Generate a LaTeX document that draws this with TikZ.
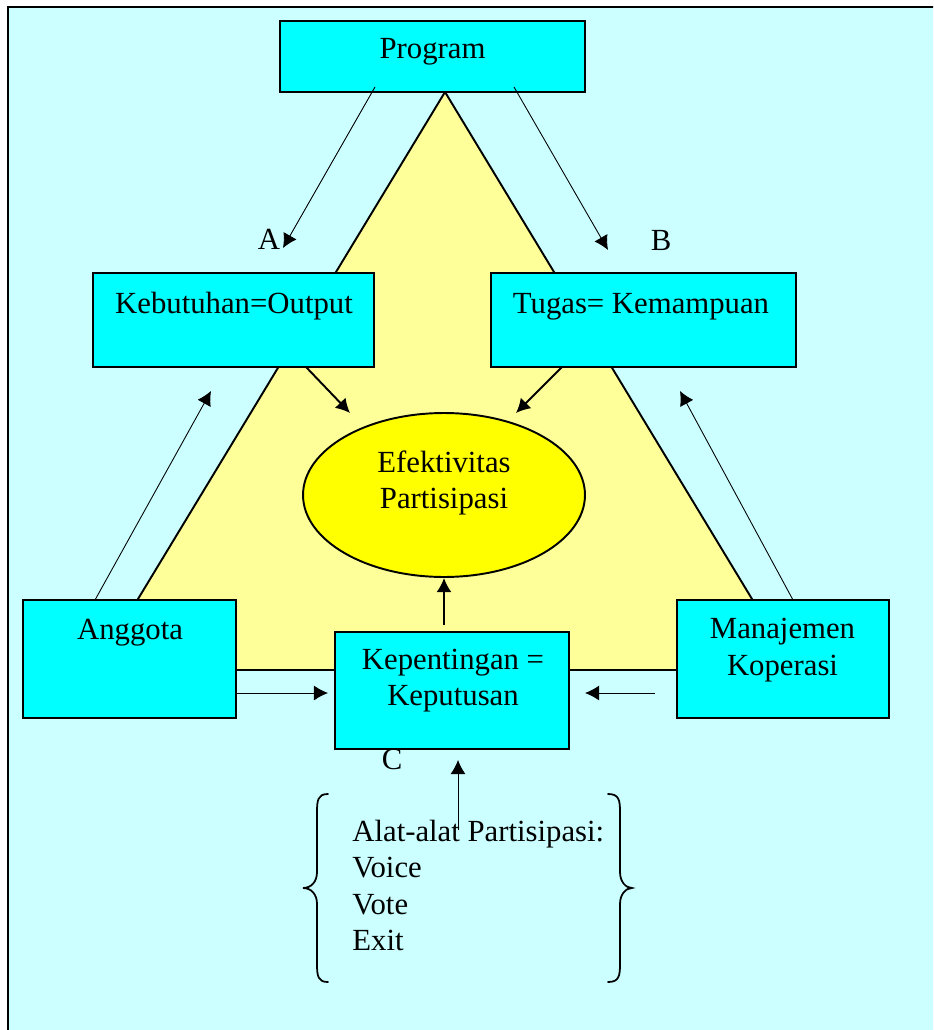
\documentclass[tikz,border=0pt]{standalone}
\usepackage{fontspec}
\setmainfont{Liberation Serif}
\usepackage{xcolor}
\usetikzlibrary{shapes.geometric}
\usetikzlibrary{arrows.meta}
\usetikzlibrary{positioning}

\definecolor{bgcyan}{HTML}{CCFFFF}
\definecolor{boxcyan}{HTML}{00FFFF}
\definecolor{trifill}{HTML}{FFFF99}
\definecolor{ellfill}{HTML}{FFFF00}

\begin{document}
\begin{tikzpicture}[x=0.02cm,y=-0.02cm,every path/.style={>={Latex[length=8pt,width=8.5pt]}},
	box/.style={draw,rectangle,fill=boxcyan,line width=1.1pt},
	txt/.style={font=\fontsize{17.5}{20.6}\selectfont,align=center,inner sep=0pt},
	thinarrow/.style={->,line width=0.5pt},
	fatarrow/.style={->,line width=1.1pt},
	brace/.style={line width=1pt,line cap=round}]
		% frame and background
		\useasboundingbox (0,0) rectangle (933,1030);
		\clip (0,0) rectangle (933,1030);
		\draw[fill=bgcyan,line width=1.7pt] (8,7) rectangle (950,1050);

		% draw triangle
		\draw[fill=trifill,line width=1.1pt] (445,92) -- (95,670) -- (795,670) -- cycle;

		% draw boxes
		\node (prog) at (432.5,56.5) [box,minimum width=6.1cm,minimum height=1.42cm] {};
		\node (keb) at (233.5,320) [box,minimum width=5.62cm,minimum height=1.88cm] {};
		\node (tug) at (643.5,320) [box,minimum width=6.1cm,minimum height=1.88cm] {};
		\node (ang) at (129.5,659) [box,minimum width=4.26cm,minimum height=2.36cm] {};
		\node (man) at (783,659) [box,minimum width=4.24cm,minimum height=2.36cm] {};
		\node (kep) at (452,690.5) [box,minimum width=4.68cm,minimum height=2.34cm] {};

		% draw ellipse
		\node (eff) at (444,495) [draw,ellipse,fill=ellfill,line width=1.1pt,minimum width=5.64cm,minimum height=3.28cm] {};

		% draw texts
		\node (progtxt) at (432.5,52) [txt] {Program};
		\node (kebtxt) at (234,306) [txt] {Kebutuhan=Output};
		\node (tugtxt) at (641,307) [txt] {Tugas= Kemampuan};
		\node (efftxt) at (444,483) [txt] {Efektivitas\\Partisipasi};
		\node (angtxt) at (130,633) [txt] {Anggota};
		\node (mantxt) at (782.5,650) [txt] {Manajemen\\Koperasi};
		\node (keptxt) at (453,680.5) [txt] {Kepentingan =\\Keputusan};
		\node (alat) at (352,820) [txt,align=left,anchor=north west] {Alat-alat Partisipasi:\\Voice\\Vote\\Exit};

		% draw letters
		\node (la) at (269,239) [txt] {A};
		\node (lb) at (661,240) [txt] {B};
		\node (lc) at (392,759) [txt] {C};

		% arrow ends
		\coordinate (atail) at (375,87);
		\coordinate (ahead) at (283,248);
		\coordinate (btail) at (514,87);
		\coordinate (bhead) at (608,250);
		\coordinate (kebout) at (306,367);
		\coordinate (kebin) at (350,413);
		\coordinate (tugout) at (562,367);
		\coordinate (tugin) at (516,413);
		\coordinate (angout) at (95,600);
		\coordinate (angin) at (211,391);
		\coordinate (manout) at (793,600);
		\coordinate (manin) at (680,391);
		\coordinate (kepout) at (444,625);
		\coordinate (kepleft) at (328,693);
		\coordinate (mantail) at (655,693);
		\coordinate (kepright) at (585,693);
		\coordinate (alattail) at (458,830);
		\coordinate (kepbottom) at (458,760);

		% draw arrows from program
		\draw[thinarrow] (atail) -- (ahead);
		\draw[thinarrow] (btail) -- (bhead);

		% draw arrows into the ellipse
		\draw[fatarrow] (kebout) -- (kebin);
		\draw[fatarrow] (tugout) -- (tugin);
		\draw[fatarrow] (kepout) -- (eff.south);

		% draw arrows up the sides
		\draw[thinarrow] (angout) -- (angin);
		\draw[thinarrow] (manout) -- (manin);

		% draw arrows into kepentingan
		\draw[thinarrow] (ang.east |- kepleft) -- (kepleft);
		\draw[thinarrow] (mantail) -- (kepright);
		\draw[thinarrow] (alattail) -- (kepbottom);

		% draw braces
		\draw[brace] (328,794) .. controls (318,794) and (317,800) .. (317,812) -- (317,872) .. controls (317,882) and (311,888) .. (303,888) .. controls (311,888) and (317,894) .. (317,904) -- (317,964) .. controls (317,976) and (318,982) .. (328,982);
		\draw[brace] (608,794) .. controls (619,794) and (620,800) .. (620,812) -- (620,872) .. controls (620,882) and (626,888) .. (632,888) .. controls (626,888) and (620,894) .. (620,904) -- (620,964) .. controls (620,976) and (619,982) .. (608,982);
	\end{tikzpicture}
\end{document}
